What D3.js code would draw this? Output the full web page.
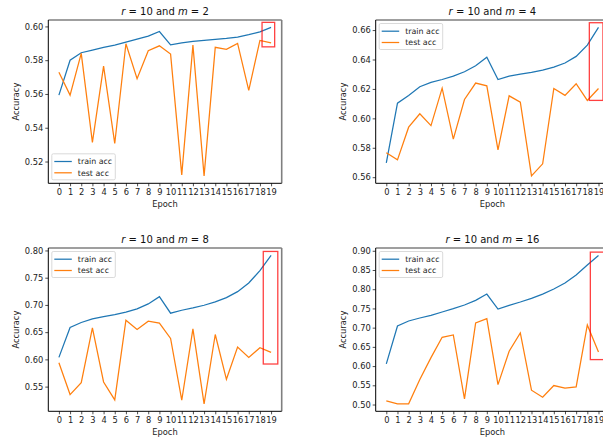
<!DOCTYPE html>
<html>
<head>
<meta charset="utf-8">
<script src="https://cdn.jsdelivr.net/npm/d3@7"></script>
<style>
  body { margin: 0; background: #fff; }
  svg { display: block; font-family: "DejaVu Sans", sans-serif; }
</style>
</head>
<body>
<svg id="chart" width="603" height="441"></svg>
<script>
const epochs = d3.range(20);

// r = 10, m = 2
const train2 = [0.5593, 0.5800, 0.5844, 0.5860, 0.5876, 0.5889, 0.5907, 0.5925, 0.5943, 0.5970,
                0.5891, 0.5903, 0.5911, 0.5917, 0.5923, 0.5929, 0.5937, 0.5951, 0.5968, 0.5994];
const test2 = [0.5729, 0.5593, 0.5840, 0.5313, 0.5765, 0.5307, 0.5897, 0.5690, 0.5856, 0.5885,
               0.5836, 0.5121, 0.5889, 0.5115, 0.5876, 0.5864, 0.5899, 0.5621, 0.5917, 0.5903];
// r = 10, m = 4
const train4 = [0.5698, 0.6103, 0.6156, 0.6215, 0.6244, 0.6264, 0.6287, 0.6317, 0.6357, 0.6416,
                0.6264, 0.6287, 0.6301, 0.6312, 0.6328, 0.6348, 0.6376, 0.6421, 0.6498, 0.6618];
const test4 = [0.5766, 0.5718, 0.5940, 0.6031, 0.5951, 0.6205, 0.5859, 0.6128, 0.6240, 0.6221,
               0.5786, 0.6153, 0.6110, 0.5609, 0.5691, 0.6203, 0.6156, 0.6235, 0.6122, 0.6203];
// r = 10, m = 8
const train8 = [0.6037, 0.6585, 0.6677, 0.6744, 0.6787, 0.6823, 0.6866, 0.6927, 0.7018, 0.7152,
                0.6848, 0.6902, 0.6945, 0.6994, 0.7055, 0.7134, 0.7244, 0.7402, 0.7628, 0.7909];
const test8 = [0.5939, 0.5354, 0.5573, 0.6579, 0.5585, 0.5256, 0.6720, 0.6549, 0.6701, 0.6665,
               0.6384, 0.5250, 0.6561, 0.5183, 0.6457, 0.5634, 0.6226, 0.6037, 0.6213, 0.6128];
// r = 10, m = 16
const train16 = [0.6056, 0.7043, 0.7173, 0.7251, 0.7320, 0.7407, 0.7494, 0.7589, 0.7710, 0.7874,
                 0.7485, 0.7580, 0.7667, 0.7762, 0.7874, 0.8004, 0.8160, 0.8368, 0.8628, 0.8879];
const test16 = [0.5095, 0.5017, 0.5017, 0.5649, 0.6221, 0.6749, 0.6810, 0.5147, 0.7121, 0.7234,
                0.5519, 0.6385, 0.6861, 0.5372, 0.5190, 0.5494, 0.5424, 0.5459, 0.7069, 0.6368];

const mValues = [2, 4, 8, 16];
const yTicks2 = [0.52, 0.54, 0.56, 0.58, 0.60];
const yTicks4 = [0.56, 0.58, 0.60, 0.62, 0.64, 0.66];
const yTicks8 = [0.55, 0.60, 0.65, 0.70, 0.75, 0.80];
const yTicks16 = [0.50, 0.55, 0.60, 0.65, 0.70, 0.75, 0.80, 0.85, 0.90];

// highlight boxes [x0, x1, yLow, yHigh] in data units
const box2 = [18.19, 19.32, 0.5879, 0.6024];
const box4 = [18.18, 19.40, 0.6122, 0.6650];
const box8 = [18.30, 19.60, 0.5915, 0.7982];
const box16 = [18.27, 19.50, 0.6169, 0.8965];

const panels = [
  { m: mValues[0], train: train2, test: test2, ticks: yTicks2, box: box2, left: 48.3, top: 20, legend: "bottom" },
  { m: mValues[1], train: train4, test: test4, ticks: yTicks4, box: box4, left: 375.7, top: 20, legend: "top" },
  { m: mValues[2], train: train8, test: test8, ticks: yTicks8, box: box8, left: 48.3, top: 248, legend: "top" },
  { m: mValues[3], train: train16, test: test16, ticks: yTicks16, box: box16, left: 375.7, top: 248, legend: "top" }
];

const W = 233.4, H = 163.3;
const blue = "#1f77b4", orange = "#ff7f0e";
const svg = d3.select("#chart");

panels.forEach(p => {
  const g = svg.append("g").attr("transform", `translate(${p.left},${p.top})`);

  const x = d3.scaleLinear().domain([-0.95, 19.95]).range([0, W]);
  const all = p.train.concat(p.test);
  const lo = d3.min(all), hi = d3.max(all), pad = (hi - lo) * 0.05;
  const y = d3.scaleLinear().domain([lo - pad, hi + pad]).range([H, 0]);

  // x axis
  const xAxis = g.append("g").attr("transform", `translate(0,${H})`)
    .call(d3.axisBottom(x).tickValues(epochs).tickSize(3).tickPadding(2).tickFormat(d3.format("d")));
  // y axis
  const yAxis = g.append("g")
    .call(d3.axisLeft(y).tickValues(p.ticks).tickSize(3).tickPadding(2).tickFormat(d3.format(".2f")));
  [xAxis, yAxis].forEach(a => {
    a.select(".domain").remove();
    a.selectAll("text").attr("font-size", 8.3).attr("fill", "#222").attr("font-family", "DejaVu Sans");
    a.selectAll("line").attr("stroke", "#222").attr("stroke-width", 0.8);
  });
  xAxis.selectAll("text").attr("dy", "0.75em");

  // lines
  const line = d3.line().x((d, i) => x(epochs[i])).y(d => y(d));
  g.append("path").datum(p.train).attr("d", line)
    .attr("fill", "none").attr("stroke", blue).attr("stroke-width", 1.25);
  g.append("path").datum(p.test).attr("d", line)
    .attr("fill", "none").attr("stroke", orange).attr("stroke-width", 1.25);

  // spines
  g.append("line").attr("x1", 0).attr("x2", W).attr("y1", 0).attr("y2", 0)
    .attr("stroke", "#7f7f7f").attr("stroke-width", 1.6);
  g.append("line").attr("x1", W).attr("x2", W).attr("y1", 0).attr("y2", H)
    .attr("stroke", "#7f7f7f").attr("stroke-width", 1.6);
  g.append("line").attr("x1", 0).attr("x2", 0).attr("y1", 0).attr("y2", H)
    .attr("stroke", "#000").attr("stroke-width", 1);
  g.append("line").attr("x1", 0).attr("x2", W).attr("y1", H).attr("y2", H)
    .attr("stroke", "#000").attr("stroke-width", 1);

  // red highlight box
  const b = p.box;
  g.append("rect")
    .attr("x", x(b[0])).attr("y", y(b[3]))
    .attr("width", x(b[1]) - x(b[0])).attr("height", y(b[2]) - y(b[3]))
    .attr("fill", "none").attr("stroke", "#ff0000").attr("stroke-opacity", 0.75).attr("stroke-width", 1.3);

  // title
  const t = g.append("text").attr("x", W / 2).attr("y", -5.5)
    .attr("text-anchor", "middle").attr("font-size", 10).attr("fill", "#111");
  t.append("tspan").attr("font-style", "italic").text("r");
  t.append("tspan").text(" = 10 and ");
  t.append("tspan").attr("font-style", "italic").text("m");
  t.append("tspan").text(" = " + p.m);

  // axis labels
  g.append("text").attr("x", W / 2).attr("y", H + 23.5)
    .attr("text-anchor", "middle").attr("font-size", 8.3).attr("fill", "#222").text("Epoch");
  g.append("text").attr("transform", `translate(-29.5,${H / 2}) rotate(-90)`)
    .attr("text-anchor", "middle").attr("font-size", 8.3).attr("fill", "#222").text("Accuracy");

  // legend
  const lw = 63.5, lh = 26;
  const ly = p.legend === "top" ? 3.5 : H - 3.5 - lh;
  const lg = g.append("g").attr("transform", `translate(3.5,${ly})`);
  lg.append("rect").attr("width", lw).attr("height", lh).attr("rx", 1.5)
    .attr("fill", "#fff").attr("fill-opacity", 0.8).attr("stroke", "#d0d0d0").attr("stroke-width", 0.8);
  [["train acc", blue], ["test acc", orange]].forEach((d, i) => {
    const cy = 7.7 + i * 11.3;
    lg.append("line").attr("x1", 2.5).attr("x2", 20).attr("y1", cy).attr("y2", cy)
      .attr("stroke", d[1]).attr("stroke-width", 1.25);
    lg.append("text").attr("x", 26).attr("y", cy).attr("dy", "0.35em")
      .attr("font-size", 7.9).attr("fill", "#222").text(d[0]);
  });
});
</script>
</body>
</html>
